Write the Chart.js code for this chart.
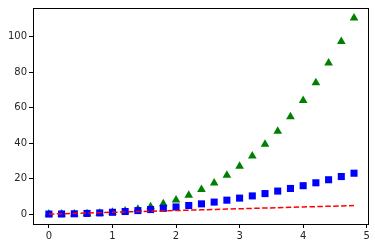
<!DOCTYPE html>
<html>
<head>
<meta charset="utf-8">
<script src="https://cdn.jsdelivr.net/npm/chart.js@4"></script>
<style>
  html, body { margin: 0; padding: 0; background: #fff; }
  #wrap { width: 375px; height: 248px; }
</style>
</head>
<body>
<div id="wrap"><canvas id="chart"></canvas></div>
<script>
// values
var tValues = [0, 0.2, 0.4, 0.6, 0.8, 1, 1.2, 1.4, 1.6, 1.8, 2, 2.2, 2.4, 2.6, 2.8, 3, 3.2, 3.4, 3.6, 3.8, 4, 4.2, 4.4, 4.6, 4.8]
var linear = [0, 0.2, 0.4, 0.6, 0.8, 1, 1.2, 1.4, 1.6, 1.8, 2, 2.2, 2.4, 2.6, 2.8, 3, 3.2, 3.4, 3.6, 3.8, 4, 4.2, 4.4, 4.6, 4.8]
var squares = [0, 0.04, 0.16, 0.36, 0.64, 1, 1.44, 1.96, 2.56, 3.24, 4, 4.84, 5.76, 6.76, 7.84, 9, 10.24, 11.56, 12.96, 14.44, 16, 17.64, 19.36, 21.16, 23.04]
var cubes = [0, 0.008, 0.064, 0.216, 0.512, 1, 1.728, 2.744, 4.096, 5.832, 8, 10.648, 13.824, 17.576, 21.952, 27, 32.768, 39.304, 46.656, 54.872, 64, 74.088, 85.184, 97.336, 110.592]
var xTicks = [0, 1, 2, 3, 4, 5]
var yTicks = [0, 20, 40, 60, 80, 100]

function pts(ys) {
    return tValues.map(function (t, i) { return { x: t, y: ys[i] } })
}

// frame round the plot area like matplotlib's spines
var framePlugin = {
    id: 'frame',
    afterDraw: function (chart) {
        var a = chart.chartArea
        var ctx = chart.ctx
        ctx.save()
        ctx.strokeStyle = '#000'
        ctx.lineWidth = 1
        ctx.strokeRect(Math.round(a.left) + 0.5, Math.round(a.top) + 0.5,
            Math.round(a.right - a.left), Math.round(a.bottom - a.top))
        ctx.restore()
    }
}

Chart.defaults.font.family = 'DejaVu Sans'
Chart.defaults.font.size = 10
Chart.defaults.color = '#262626'

new Chart(document.getElementById('chart'), {
    type: 'scatter',
    data: {
        datasets: [{
            data: pts(linear),
            showLine: true,
            borderColor: '#ff0000',
            borderWidth: 1.5,
            borderDash: [5.5, 2.4],
            pointRadius: 0
        }, {
            data: pts(squares),
            pointStyle: 'rect',
            pointRadius: 5,
            backgroundColor: '#0000ff',
            borderColor: '#0000ff',
            borderWidth: 0
        }, {
            data: pts(cubes),
            pointStyle: 'triangle',
            pointRadius: 5,
            backgroundColor: '#008000',
            borderColor: '#008000',
            borderWidth: 0
        }]
    },
    options: {
        responsive: true,
        maintainAspectRatio: false,
        animation: false,
        layout: { padding: { top: 6, right: 7, left: 0, bottom: 0 } },
        plugins: { legend: { display: false }, tooltip: { enabled: false } },
        scales: {
            x: {
                type: 'linear',
                min: -0.25,
                max: 5.02,
                afterBuildTicks: function (s) { s.ticks = xTicks.map(function (v) { return { value: v } }) },
                afterFit: function (s) { s.height = 24 },
                grid: { drawOnChartArea: false, tickLength: 4, color: '#000' },
                border: { color: '#000' },
                ticks: { padding: 2, maxRotation: 0 }
            },
            y: {
                type: 'linear',
                min: -5.6,
                max: 116.2,
                afterBuildTicks: function (s) { s.ticks = yTicks.map(function (v) { return { value: v } }) },
                afterFit: function (s) { s.width = 33 },
                grid: { drawOnChartArea: false, tickLength: 4, color: '#000' },
                border: { color: '#000' },
                ticks: { padding: 2 }
            }
        }
    },
    plugins: [framePlugin]
})
</script>
</body>
</html>
